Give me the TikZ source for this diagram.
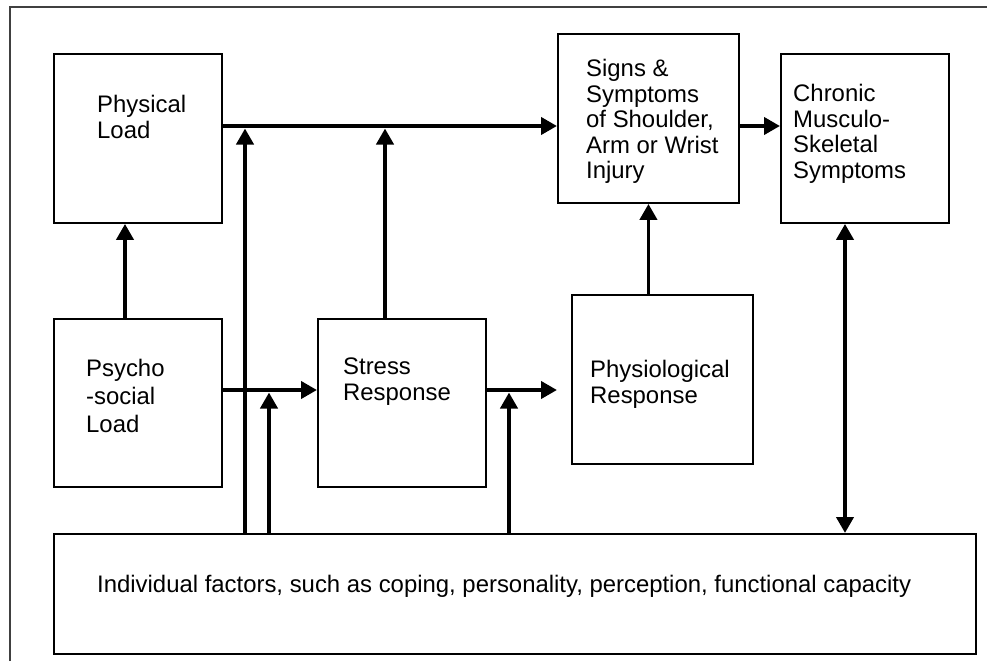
\documentclass[tikz,border=0pt]{standalone}
\usepackage{fontspec}
\setmainfont{Liberation Sans}
\usetikzlibrary{arrows.meta}

\begin{document}
\begin{tikzpicture}[x=1pt, y=-1pt,
  box/.style={draw, line width=1.9pt, inner sep=0pt, anchor=north west},
  txt/.style={anchor=north west, inner sep=0pt, align=left,
    font=\fontsize{23.9}{25.5}\selectfont},
  arr/.style={line width=3.9pt, -{Triangle[length=16pt,width=17pt]}},
  dblarr/.style={line width=3.9pt, {Triangle[length=16pt,width=17pt]}-{Triangle[length=16pt,width=17pt]}}
]
\useasboundingbox (0,0) rectangle (987,661);

% ----------------------
% Frame
% ----------------------
\draw[line width=1.3pt, black!75] (10,661) -- (10,7) -- (987,7);

% ----------------------
% Boxes
% ----------------------
\node[box, minimum width=168pt, minimum height=169pt] (physical) at (53,53) {};
\node[box, minimum width=181pt, minimum height=169pt] (signs) at (557,33) {};
\node[box, minimum width=168pt, minimum height=169pt] (chronic) at (780,53) {};
\node[box, minimum width=168pt, minimum height=168pt] (psycho) at (53,318) {};
\node[box, minimum width=168pt, minimum height=168pt] (stress) at (317,318) {};
\node[box, minimum width=181pt, minimum height=169pt] (physio) at (571,294) {};
\node[box, minimum width=922pt, minimum height=120pt] (indiv) at (53,533) {};

% ----------------------
% Texts
% ----------------------
\node[txt] (physical-txt) at (97,95) {Physical\\Load};
\node[txt] (signs-txt) at (586,59) {Signs \&\\Symptoms\\of Shoulder,\\Arm or Wrist\\Injury};
\node[txt] (chronic-txt) at (793,84) {Chronic\\Musculo-\\Skeletal\\Symptoms};
\node[txt, font=\fontsize{23.9}{28}\selectfont] (psycho-txt) at (86,359) {Psycho\\-social\\Load};
\node[txt] (stress-txt) at (343,358) {Stress\\Response};
\node[txt] (physio-txt) at (590,360) {Physiological\\Response};
\node[txt] (indiv-txt) at (97,575)
  {Individual factors, such as coping, personality, perception, functional capacity};

% ----------------------
% Levels and columns
% ----------------------
\coordinate (top) at (0,126);
\coordinate (toptip) at (0,128.5);
\coordinate (mid) at (0,390);
\coordinate (midtip) at (0,392.5);
\coordinate (physin) at (557,390);
\coordinate (c1) at (245,0);
\coordinate (c2) at (269,0);
\coordinate (c3) at (385,0);
\coordinate (c4) at (509,0);
\coordinate (c5) at (125,0);
\coordinate (c6) at (845,0);

% ----------------------
% Connectors
% ----------------------
\draw[arr] (physical.east |- top) -- (signs.west |- top);
\draw[arr] (signs.east |- top) -- (chronic.west |- top);
\draw[arr] (c5 |- psycho.north) -- (c5 |- physical.south);
\draw[arr] (psycho.east |- mid) -- (stress.west |- mid);
\draw[arr] (stress.east |- mid) -- (physin);
\draw[arr] (c3 |- stress.north) -- (c3 |- toptip);
\draw[arr] (signs.south |- physio.north) -- (signs.south);
\draw[arr] (c1 |- indiv.north) -- (c1 |- toptip);
\draw[arr] (c2 |- indiv.north) -- (c2 |- midtip);
\draw[arr] (c4 |- indiv.north) -- (c4 |- midtip);
\draw[dblarr] (c6 |- chronic.south) -- (c6 |- indiv.north);

\end{tikzpicture}
\end{document}
